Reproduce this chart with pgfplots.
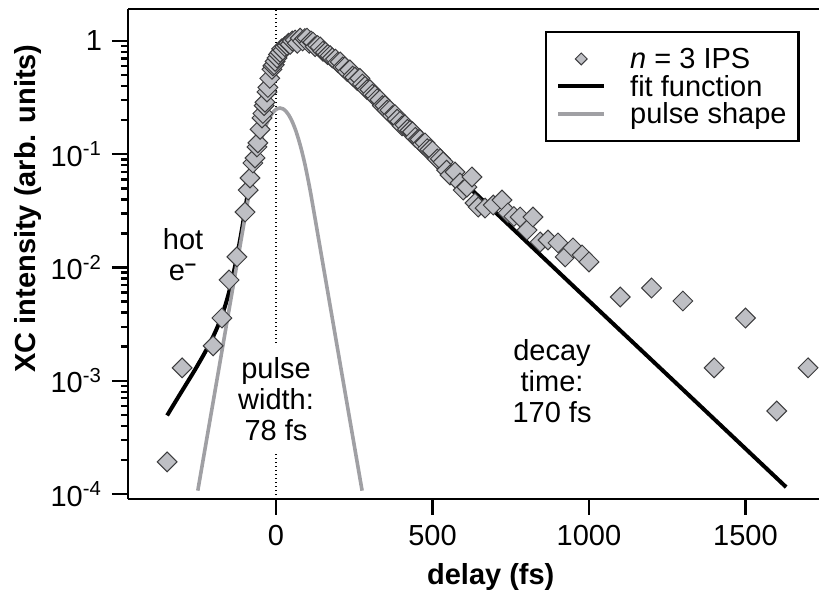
\documentclass[border=0pt]{standalone}
\usepackage{pgfplots}
\pgfplotsset{compat=1.18}
\usepackage{fontspec}
\setmainfont{Liberation Sans}
\definecolor{mkfill}{RGB}{190,191,196}
\definecolor{mkedge}{RGB}{60,60,62}
\definecolor{pulsegray}{RGB}{160,160,164}
\pgfplotstableread{
x y
-348 1.92e-4
-300 1.30e-3
-201 2.03e-3
-173 3.58e-3
-150 7.76e-3
-125 0.0124
-99 0.0309
-89 0.0483
-83 0.0617
-74 0.0837
-67 0.0927
-61 0.116
-58 0.126
-51 0.166
-45 0.209
-42 0.229
-38 0.269
-35 0.288
-29 0.355
-26 0.389
-20 0.468
-13 0.562
-10 0.603
-6 0.617
-3 0.661
3 0.708
8 0.759
13 0.794
18 0.851
22 0.832
28 0.891
35 0.912
40 0.955
45 0.933
52 1.00
61 1.02
68 0.955
77 1.06
85 1.00
92 1.05
99 1.06
106 0.955
112 1.00
118 0.977
125 0.891
133 0.912
141 0.885
150 0.813
158 0.794
165 0.759
173 0.741
180 0.708
190 0.692
197 0.646
205 0.653
213 0.589
220 0.589
228 0.537
236 0.555
245 0.490
252 0.479
260 0.447
268 0.468
276 0.417
284 0.398
291 0.372
300 0.372
308 0.339
316 0.331
323 0.309
332 0.302
340 0.269
348 0.269
355 0.245
364 0.245
372 0.219
380 0.224
387 0.204
396 0.195
403 0.178
412 0.182
420 0.166
428 0.162
436 0.158
445 0.141
454 0.135
460 0.135
468 0.123
476 0.126
483 0.112
492 0.110
500 0.107
515 0.0908
525 0.0912
534 0.0855
545 0.0724
556 0.0656
572 0.0697
588 0.0557
598 0.0483
610 0.0513
626 0.0630
636 0.0371
646 0.0342
668 0.0335
694 0.0356
722 0.0394
741 0.0303
760 0.0282
780 0.0279
802 0.0214
821 0.0279
844 0.0168
869 0.0175
901 0.0165
924 0.0124
949 0.0149
978 0.0129
1000 0.0112
1100 5.49e-3
1200 6.59e-3
1300 5.06e-3
1400 1.30e-3
1500 3.58e-3
1600 5.41e-4
1700 1.30e-3
}\datatable
\pgfplotstableread{
x y
-348 4.94e-4
-320 6.63e-4
-290 9.05e-4
-260 1.235e-3
-230 1.72e-3
-215 2.056e-3
-200 2.486e-3
-185 3.08e-3
-170 3.97e-3
-157 5.16e-3
-145 6.88e-3
-130 0.01058
-115 0.0175
-100 0.0306
-89 0.0483
-78 0.0705
-67 0.103
-51 0.164
-32 0.301
-20 0.417
-13 0.501
-6 0.569
0 0.624
6 0.673
13 0.722
30 0.80
54 0.885
86 0.922
118 0.867
145 0.78
173 0.679
200 0.597
227 0.521
260 0.44
291 0.369
332 0.284
600 0.0565
1000 5.07e-3
1300 8.37e-4
1630 1.15e-4
}\fittable
\pgfplotstableread{
x y
-250 1.07e-4
-207.5 5.11e-4
-177.5 1.543e-3
-147.5 4.66e-3
-117.5 0.01408
-87.5 0.0425
-77.5 0.0595
-67.5 0.0812
-57.5 0.1062
-47.5 0.1340
-37.5 0.1635
-27.5 0.1920
-17.5 0.2177
-7.5 0.2384
2.5 0.2514
12.5 0.256
22.5 0.2514
32.5 0.2384
42.5 0.2177
52.5 0.1920
62.5 0.1635
72.5 0.1340
82.5 0.1062
92.5 0.0812
102.5 0.0595
112.5 0.0425
142.5 0.01408
172.5 4.66e-3
202.5 1.543e-3
232.5 5.11e-4
275 1.07e-4
}\pulsetable
\begin{document}
\fontsize{14.5}{15.5}\selectfont
\begin{tikzpicture}
\begin{axis}[
  scale only axis, width=345.5pt, height=245pt,
  xmin=-473, xmax=1735,
  ymode=log, ymin=9.03e-5, ymax=1.917,
  axis x line*=bottom, axis y line*=left,
  axis line style={line width=1.4pt, -},
  every tick/.style={black, line width=1.2pt},
  tick align=outside,
  major tick length=8pt, minor tick length=3.5pt,
  xtick={0,500,1000,1500},
  xticklabels={0,500,1000,1500},
  ytick={1e-4,1e-3,1e-2,1e-1,1},
  yticklabels={10\textsuperscript{-4},10\textsuperscript{-3},10\textsuperscript{-2},10\textsuperscript{-1},1},
  minor ytick={2e-4,3e-4,4e-4,5e-4,6e-4,7e-4,8e-4,9e-4,2e-3,3e-3,4e-3,5e-3,6e-3,7e-3,8e-3,9e-3,2e-2,3e-2,4e-2,5e-2,6e-2,7e-2,8e-2,9e-2,0.2,0.3,0.4,0.5,0.6,0.7,0.8,0.9},
  xlabel={\textbf{delay (fs)}},
  ylabel={\textbf{XC intensity (arb. units)}},
  xlabel style={at={(axis description cs:0.525,-0.159)}, anchor=center},
  ylabel style={at={(axis description cs:-0.1447,0.593)}, anchor=center},
  legend style={at={(rel axis cs:0.6035,0.9551)}, anchor=north west, draw=black, line width=1.2pt,
    inner xsep=6pt, inner ysep=6.5pt, row sep=0pt, cells={anchor=west},
    nodes={inner xsep=0pt, inner ysep=0.25pt, text height=11.5pt, text depth=1.75pt},
    /tikz/column 1/.style={column sep=13pt}},
  legend image code/.code={\path[draw=none, fill=none] (0pt,0pt) -- (23pt,0pt);
    \draw[overlay, #1] (0pt,0pt) -- (23pt,0pt);},
]
\addplot[forget plot, black, line width=0.8pt, dash pattern=on 0.8pt off 1.2pt] coordinates {(0,9e-5) (0,2)};
\node[fill=white, align=center, inner xsep=2pt, inner ysep=6pt] at (axis cs:0,6.83e-4) {pulse\\width:\\78 fs};
\node[align=center] at (axis cs:-297,0.0129) {hot\\e\textsuperscript{\textbf{--}}};
\node[align=center] at (axis cs:882,9.95e-4) {decay\\time:\\170 fs};
\addplot[only marks, mark=square*, mark size=3.5pt, draw=mkedge, fill=mkfill,
  mark options={rotate=45, draw=mkedge, fill=mkfill, line width=0.5pt},
  legend image code/.code={\path[draw=none, fill=none] (0pt,0pt) -- (23pt,0pt);
    \begin{scope}[overlay]
    \pgftransformshift{\pgfpoint{11.5pt}{0pt}}\pgftransformrotate{45}
    \pgfsetlinewidth{0.5pt}\pgfsetstrokecolor{mkedge}\pgfsetfillcolor{mkfill}
    \pgfplotmarksize=2.1pt\relax\pgfuseplotmark{square*}
    \end{scope}}
  ] table {\datatable};
\addlegendentry{\textit{n} = 3 IPS}
\addplot[black, line width=2pt, smooth, tension=0.4] table {\fittable};
\addlegendentry{fit function}
\addplot[pulsegray, line width=1.8pt, smooth, tension=0.4] table {\pulsetable};
\addlegendentry{pulse shape}
\draw[line width=1.4pt] (rel axis cs:0,1) -- (rel axis cs:1,1);
\coordinate (bbA) at (rel axis cs:-0.18524,-0.18367);
\coordinate (bbB) at (rel axis cs:1,1.018367);
\end{axis}
\pgfresetboundingbox
\path[use as bounding box] (bbA) rectangle (bbB);
\end{tikzpicture}
\end{document}
